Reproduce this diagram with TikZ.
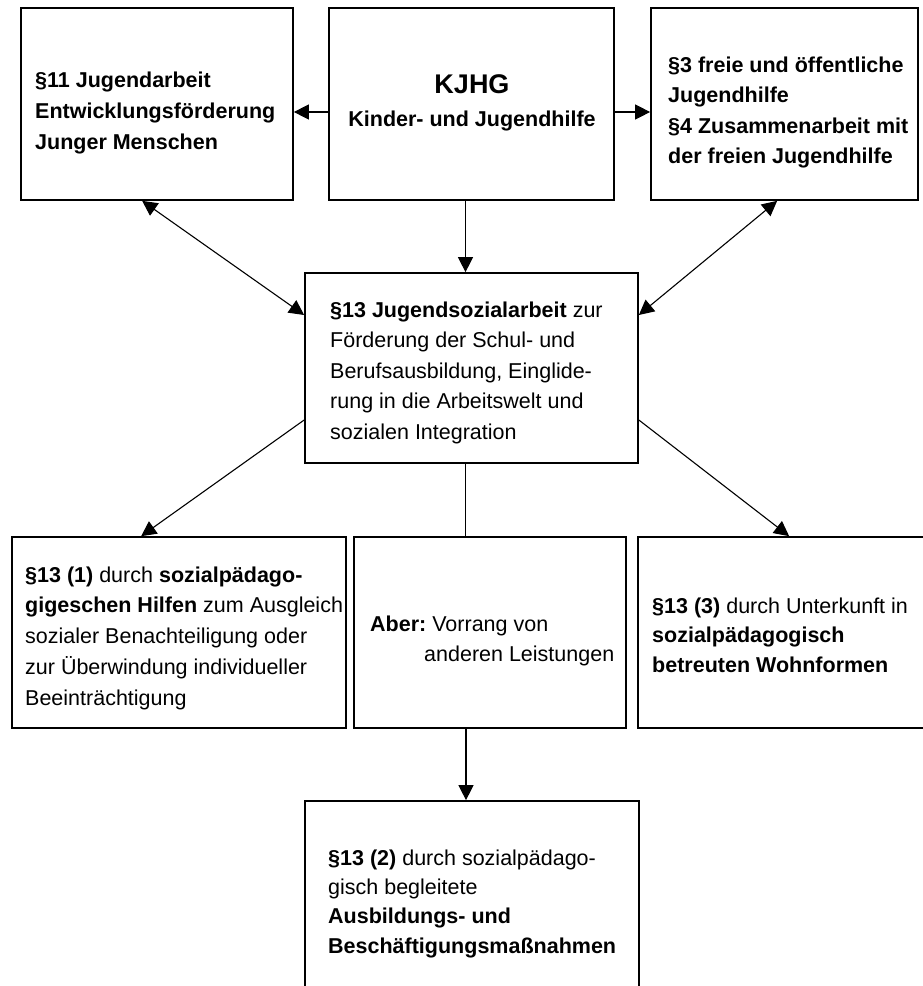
\documentclass[tikz,border=0pt]{standalone}
\usepackage{fontspec}
\setmainfont{Liberation Sans}
\usetikzlibrary{arrows.meta}
\frenchspacing
\newcommand{\fnt}[1]{\fontsize{21.5}{#1}\selectfont}
\begin{document}
\begin{tikzpicture}[x=1pt,y=-1pt,
  box/.style={draw, line width=1.7pt, inner sep=0pt, rectangle},
  txt/.style={inner sep=0pt, align=left, anchor=north west, font=\fnt{30.5}},
  txtb/.style={txt, font=\fnt{30.5}\bfseries},
  conn/.style={line width=1.1pt},
  arr/.style={conn, -{Triangle[length=15pt,width=15pt]}},
  darr/.style={conn, {Triangle[length=15pt,width=15pt]}-{Triangle[length=15pt,width=15pt]}},
]
\useasboundingbox (0,0) rectangle (923,986);
\clip (0,0) rectangle (923,986);
\fill[white] (0,0) rectangle (923,986);

% boxes
\node[box, minimum width=272pt, minimum height=192pt] (b1) at (157,104) {};
\node[box, minimum width=285pt, minimum height=192pt] (k) at (471.5,104) {};
\node[box, minimum width=267pt, minimum height=192pt] (r) at (784.5,104) {};
\node[box, minimum width=333pt, minimum height=190pt] (m) at (471.5,368) {};
\node[box, minimum width=334pt, minimum height=191pt] (bl) at (179,632.5) {};
\node[box, minimum width=272pt, minimum height=191pt] (ab) at (490,632.5) {};
\node[box, minimum width=302pt, minimum height=191pt] (br) at (789,632.5) {};
\node[box, minimum width=334pt, minimum height=220pt] (bb) at (472,911) {};

% texts
\node[txtb, font=\fnt{31}\bfseries] (t1) at (35,65.3) {\strut§11 Jugendarbeit\\Entwicklungsförderung\\Junger Menschen};
\node[anchor=base, inner sep=0pt, font=\fontsize{27}{30}\selectfont\bfseries] (tk1) at (472,93) {KJHG};
\node[anchor=base, inner sep=0pt, font=\fnt{30.5}\bfseries] (tk2) at (472,126) {Kinder- und Jugendhilfe};
\node[txtb] (tr) at (668,50.65) {\strut§3 freie und öffentliche\\Jugendhilfe\\§4 Zusammenarbeit mit\\der freien Jugendhilfe};
\node[txt] (tm) at (330,295.65) {\strut\textbf{§13 Jugendsozialarbeit} zur\\Förderung der Schul- und\\Berufsausbildung, Eingli\-de-\\rung in die Arbeitswelt und\\sozialen Integration};
\node[txt, font=\fnt{30.8}] (tbl) at (25,560.4) {\strut\textbf{§13 (1)} durch \textbf{sozialpädago-}\\\textbf{gigeschen Hilfen} zum Ausgleich\\sozialer Benachteiligung oder\\zur Überwindung individueller\\Beeinträchtigung};
\node[txt] (tab) at (370,609.65) {\strut\textbf{Aber:} Vorrang von\\\hspace*{54pt}anderen Leistungen};
\node[txt, font=\fnt{29.5}] (tbr) at (652,592.35) {\strut\textbf{§13 (3)} durch Unterkunft in\\\textbf{sozialpädagogisch}\\\textbf{betreuten Wohnformen}};
\node[txt, font=\fnt{29.3}] (tbb) at (328,844.5) {\strut\textbf{§13 (2)} durch sozialpädago-\\gisch begleitete\\\textbf{Ausbildungs- und}\\\textbf{Beschäftigungsmaßnahmen}};

% connectors
\draw[arr] ([yshift=-8pt]k.west) -- ([yshift=-8pt]b1.east);
\draw[arr] ([yshift=-8pt]k.east) -- ([yshift=-8pt]r.west);
\draw[arr] ([xshift=-6pt]k.south) -- ([xshift=-6pt]m.north);
\draw[darr] ([xshift=122pt]b1.south west) -- ([yshift=53pt]m.west);
\draw[darr] ([xshift=127pt]r.south west) -- ([yshift=53pt]m.east);
\draw[arr] ([yshift=-52pt]m.west) -- ([xshift=130pt]bl.north west);
\draw[arr] ([yshift=-52pt]m.east) -- ([xshift=152pt]br.north west);
\draw[conn] ([xshift=-6pt]m.south) -- ([xshift=-6pt]m.south |- ab.north);
\draw[arr] ([xshift=-6pt]bb.north |- ab.south) -- ([xshift=-6pt]bb.north);
\end{tikzpicture}
\end{document}
